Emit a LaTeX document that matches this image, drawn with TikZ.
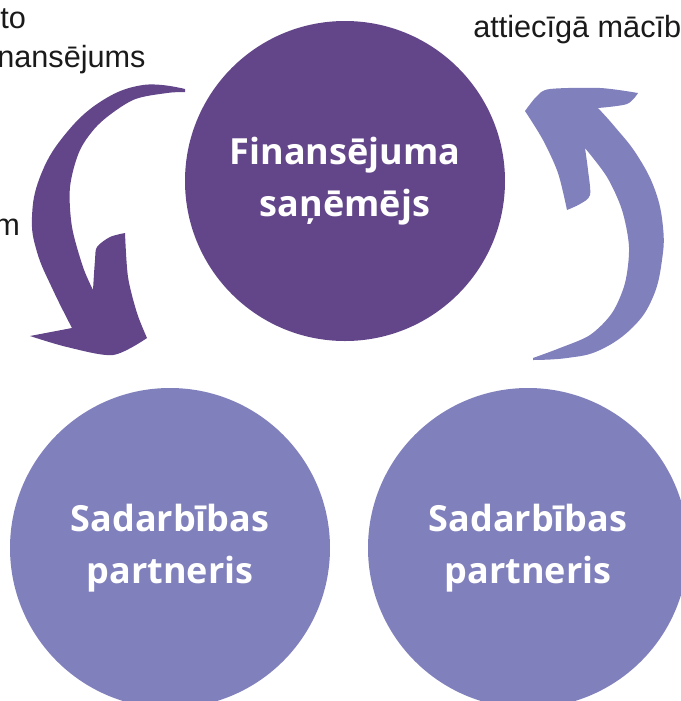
\documentclass[tikz,border=0pt]{standalone}
\usepackage{fontspec}
\setmainfont{Liberation Sans}
\newfontfamily\bubblefont{Open Sans}
\usetikzlibrary{positioning}
\definecolor{fundpurple}{HTML}{63468A}
\definecolor{partnerlilac}{HTML}{8080BC}
\definecolor{notegray}{HTML}{1A1A1A}

\begin{document}
\begin{tikzpicture}[x=0.75pt, y=-0.75pt,
    bubble/.style={circle, fill=#1, minimum size=240pt, inner sep=0pt, text=white, align=center,
        font=\bubblefont\bfseries\fontsize{27}{39}\selectfont},
    note/.style={inner sep=0pt, text=notegray, font=\fontsize{23}{27}\selectfont}
]
\useasboundingbox (0,0) rectangle (681,701);
\clip (0,0) rectangle (681,701);

% Circles
\node[bubble=fundpurple] (recipient) at (345,181) {Finansējuma\\saņēmējs};
\node[bubble=partnerlilac] (partnerA) at (170,548) {Sadarbības\\partneris};
\node[bubble=partnerlilac] (partnerB) at (528,548) {Sadarbības\\partneris};

% Cut-off notes
\node[note, anchor=base west] (noteto) at (0,28) {to};
\node[note, anchor=base west] (notefin) at (-3,67) {nansējums};
\node[note, anchor=base west] (notem) at (-6,235) {m};
\node[note, anchor=base west] (noteatt) at (473,37) {attiecīgā mācīb};

% Left brush arrow
\fill[fundpurple] plot[smooth, tension=0.7] coordinates {(185,89) (143,85) (100,102) (63,137) (40,177) (32,217) (37,252) (53,290) (72,328)}
    -- (30,336)
    -- plot[smooth] coordinates {(30,336) (67,347) (113,355) (147,338)}
    -- plot[smooth] coordinates {(147,338) (137,313) (128,277) (125,233)}
    -- plot[smooth] coordinates {(125,233) (110,237) (97,247) (95,260) (93,290)}
    -- plot[smooth] coordinates {(93,290) (83,267) (72,227) (70,187) (80,150) (100,123) (133,100) (167,93) (185,92)}
    -- cycle;

% Right brush arrow
\fill[partnerlilac] plot[smooth, tension=0.7] coordinates {(533,360) (567,358) (600,350) (633,327) (653,297) (662,260) (663,227) (655,190) (637,155) (615,127) (598,108)}
    -- plot[smooth] coordinates {(598,108) (627,104) (638,93)}
    -- plot[smooth] coordinates {(638,93) (600,88) (550,89) (537,96) (525,111)}
    -- plot[smooth] coordinates {(525,111) (543,140) (558,173) (567,210)}
    -- plot[smooth] coordinates {(567,210) (580,204) (590,195) (588,170) (585,148)}
    -- plot[smooth] coordinates {(585,148) (607,177) (622,210) (629,247) (625,283) (612,313) (590,335) (560,348) (533,358)}
    -- cycle;

\end{tikzpicture}
\end{document}
